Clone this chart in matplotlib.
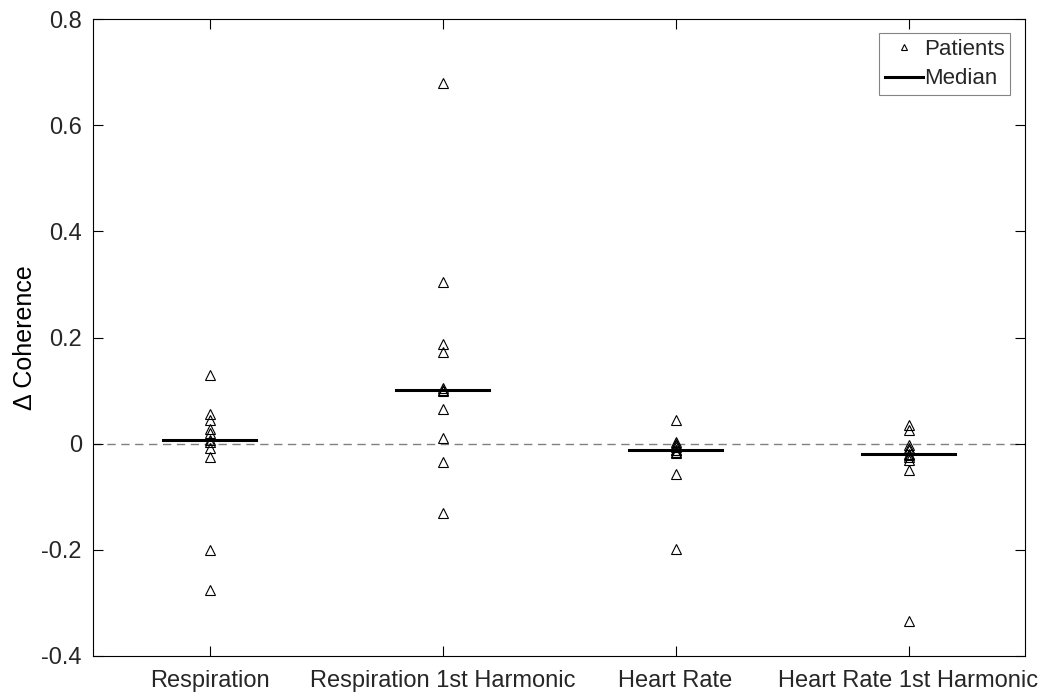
import matplotlib
matplotlib.use("Agg")
import matplotlib.pyplot as plt
from matplotlib.ticker import FuncFormatter
import numpy as np

plt.rcParams['font.family'] = ['Liberation Sans', 'DejaVu Sans']
plt.rcParams['text.color'] = '#262626'
plt.rcParams['xtick.labelcolor'] = '#262626'
plt.rcParams['ytick.labelcolor'] = '#262626'

categories = ["Respiration", "Respiration 1st Harmonic", "Heart Rate", "Heart Rate 1st Harmonic"]
resp = [0.13, 0.055, 0.045, 0.028, 0.02, 0.007, 0.003, -0.008, -0.025, -0.2, -0.275]
resp_h = [0.68, 0.305, 0.188, 0.172, 0.105, 0.102, 0.100, 0.065, 0.01, -0.035, -0.13]
hr = [0.045, 0.003, 0.0, -0.003, -0.006, -0.011, -0.012, -0.015, -0.018, -0.058, -0.198]
hr_h = [0.036, 0.025, -0.002, -0.008, -0.012, -0.02, -0.022, -0.026, -0.03, -0.05, -0.335]
series = [resp, resp_h, hr, hr_h]
y_ticks = [-0.4, -0.2, 0, 0.2, 0.4, 0.6, 0.8]

fig = plt.figure(figsize=(10.45, 6.93), dpi=100)
ax = fig.add_axes([93/1045, 1-656/693, 932/1045, 637/693])

ax.axhline(0, color='#808080', linestyle=(0, (6, 4)), linewidth=1.0, zorder=1)
for i, vals in enumerate(series):
    x = i + 1
    ax.plot([x]*len(vals), vals, linestyle='none', marker='^', markersize=7,
            markerfacecolor='none', markeredgecolor='black', markeredgewidth=0.8,
            label='Patients' if i == 0 else None, zorder=3)
    med = np.median(vals)
    ax.plot([x-0.2, x+0.2], [med, med], color='black', linewidth=2.2,
            label='Median' if i == 0 else None, zorder=2)

ax.set_xlim(0.5, 4.5)
ax.set_ylim(-0.4, 0.8)
ax.set_xticks([1, 2, 3, 4])
ax.set_xticklabels(categories, fontsize=17)
ax.set_yticks(y_ticks)
ax.yaxis.set_major_formatter(FuncFormatter(lambda v, p: ('%g' % round(v, 2)).replace('\u2212', '-')))
ax.tick_params(direction='in', top=True, right=True, labelsize=17, length=7, width=0.8)
ax.tick_params(axis='x', pad=10)
ax.tick_params(axis='y', pad=8)
for s in ax.spines.values():
    s.set_linewidth(0.8)
ax.set_ylabel('\u0394 Coherence', fontsize=18)
ax.yaxis.set_label_coords(-56/932, 0.5)

leg = ax.legend(loc='upper right', fontsize=16, frameon=True, fancybox=False,
                edgecolor='#666666', handlelength=1.7, bbox_to_anchor=(1 - 15/932, 1 - 14/637),
                borderaxespad=0.0,
                markerscale=0.65, handletextpad=0.05, borderpad=0.25, labelspacing=0.4)
leg.get_frame().set_linewidth(0.8)

fig.savefig('out.png', dpi=100)
